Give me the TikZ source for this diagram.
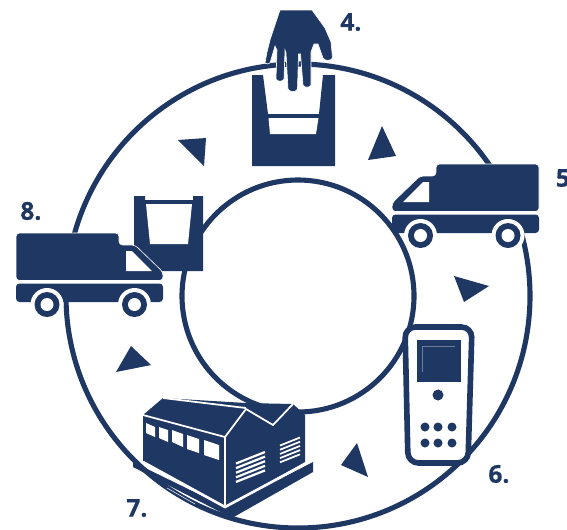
\documentclass[tikz,border=0pt]{standalone}
\usepackage{fontspec}
\setmainfont{Open Sans}[BoldFeatures={FakeBold=0.5}]
\usepackage{xcolor}
\usepackage{tikz}
\definecolor{navy}{HTML}{1F3763}

\tikzset{
  ring/.style={draw=navy, line width=2.9pt},
  ink/.style={fill=navy},
  inkhalo/.style={fill=navy, draw=white, line width=0.35pt},
  hole/.style={fill=white},
  seam/.style={draw=white, line width=1pt},
  turn/.style={fill=navy},
  steplabel/.style={text=navy, font=\bfseries\fontsize{14}{15}\selectfont, inner sep=0pt}
}

% van facing left, in the coordinates of the right-hand one
\newcommand{\vanshape}{
  \fill[hole] (392,210) rectangle (539,216);
  \filldraw[inkhalo, rounded corners=2pt] (436,176) -- (436,164) -- (539,164) -- (539,211.5) -- (392,211.5) -- (392,203) -- (420,176) -- cycle;
  \fill[hole] (403,202) -- (423,182) -- (429,182) -- (429,202) -- cycle;
  \fill[ink, rounded corners=2pt] (392,214.5) -- (539,214.5) -- (539,233) -- (392,233) -- cycle;
  \foreach \wx in {420.5,508} {
    \fill[hole] (\wx,235.5) circle [radius=16.5];
    \fill[ink] (\wx,235.5) circle [radius=12.5];
    \fill[hole] (\wx,235.5) circle [radius=6.5];
  }
}

\begin{document}
\begin{tikzpicture}[x=0.02cm, y=-0.02cm]
\useasboundingbox (0,0) rectangle (567,529);
\fill[white] (0,0) rectangle (567,529);

\draw[ring] (298,296) circle [radius=232];
\draw[ring] (298,296) circle [radius=116];

% turn marks
\fill[turn] (178,140) -- (206,138) -- (204,166) -- cycle;
\fill[turn] (382,126) -- (396,156) -- (368,160) -- cycle;
\fill[turn] (454,276) -- (489,286) -- (464,302) -- cycle;
\fill[turn] (357,443) -- (368,477) -- (341,465) -- cycle;
\fill[turn] (131,346) -- (151,365) -- (116,372) -- cycle;

% big bin
\fill[ink] (252,75) -- (263,75) -- (268,114) -- (319,114) -- (323,75) -- (335,75) -- (335,166) -- (252,166) -- cycle;
\fill[hole] (268.5,118) -- (318.5,118) -- (316,134) -- (270,134) -- cycle;

% hand
\filldraw[inkhalo] (280,10) -- (312,10) -- (325,28) -- (331,42) -- (332.5,58) to[bend left=60] (323,58) -- (318,44) -- (314,44) -- (311,52)
  -- (311,85) to[bend left=70] (303,85) -- (300.5,54) -- (298.5,54) -- (297.5,89) to[bend left=70] (288,89) -- (286,53) -- (285,50)
  -- (284,79) to[bend left=70] (276,79) -- (277,50) -- (275,46) -- (270,63) to[bend left=40] (265,63) -- (267,52) -- (270,40) -- (276,22) -- cycle;

% small bin
\fill[ink] (134,196) -- (145,196) -- (145,200) -- (193,200) -- (193,196) -- (203,196) -- (203,271) -- (134,271) -- cycle;
\fill[hole] (146,204) -- (192,204) -- (188,244) -- (150,244) -- cycle;

% vans
\vanshape
\begin{scope}[shift={(555,69)}, xscale=-1]
\vanshape
\end{scope}

% handset
\draw[line width=3.2pt, draw=navy, fill=white, rounded corners=6pt] (405,327) -- (472,327) -- (468,463) -- (408,463) -- cycle;
\fill[ink] (417,340) rectangle (461,382);
\draw[white!35!navy, line width=0.3pt] (422,372) -- (422,346) -- (455,346);
\fill[ink] (438,395) circle [radius=5.5];
\foreach \dx in {425,438,452} {
  \foreach \dy in {427,443} {
    \fill[ink] (\dx,\dy) circle [radius=4.5];
  }
}

% warehouse
\fill[ink] (133,462) -- (133,467) -- (232,518) -- (313,472) -- (313,462) -- (225,507) -- cycle;
\fill[ink] (143,415) -- (163,398) -- (246,403) -- (293,404) -- (305,415) -- (305,462) -- (225,507) -- (143,462) -- cycle;
\draw[seam] (143,415) -- (225,437) -- (225,505);
\draw[seam] (225,437) -- (246,409) -- (273,425) -- (293,404);
\draw[seam] (163,398) -- (246,408);
\draw[seam, line width=1.5pt] (143,462) -- (225,507) -- (307,463);
\draw[draw=white, line width=0.3pt] (167,488) -- (195,504);
\fill[hole] (146,423) -- (155,427) -- (155,437) -- (146,433) -- cycle;
\fill[hole] (159,427) -- (168,430) -- (168,442) -- (159,438) -- cycle;
\fill[hole] (172,430) -- (183,434) -- (183,447) -- (172,442) -- cycle;
\fill[hole] (187,435) -- (199,439) -- (199,453) -- (187,449) -- cycle;
\fill[hole] (204,440) -- (219,445) -- (219,460) -- (204,455) -- cycle;
\foreach \vy in {0,1,2,3,4} {
  \draw[seam, line width=1.25pt] (236,{463.5+\vy*4.6}) -- (265,{452+\vy*4.6});
  \draw[seam, line width=1pt] (280,{445.5+\vy*4.2}) -- (300,{437.5+\vy*4.2});
}

% step numbers
\node[steplabel, anchor=west] (four) at (340,22) {4.};
\node[steplabel, anchor=west] (five) at (555.5,178) {5.};
\node[steplabel, anchor=west] (six) at (488,474) {6.};
\node[steplabel, anchor=west] (seven) at (126,508) {7.};
\node[steplabel, anchor=west] (eight) at (20,211) {8.};
\end{tikzpicture}
\end{document}
